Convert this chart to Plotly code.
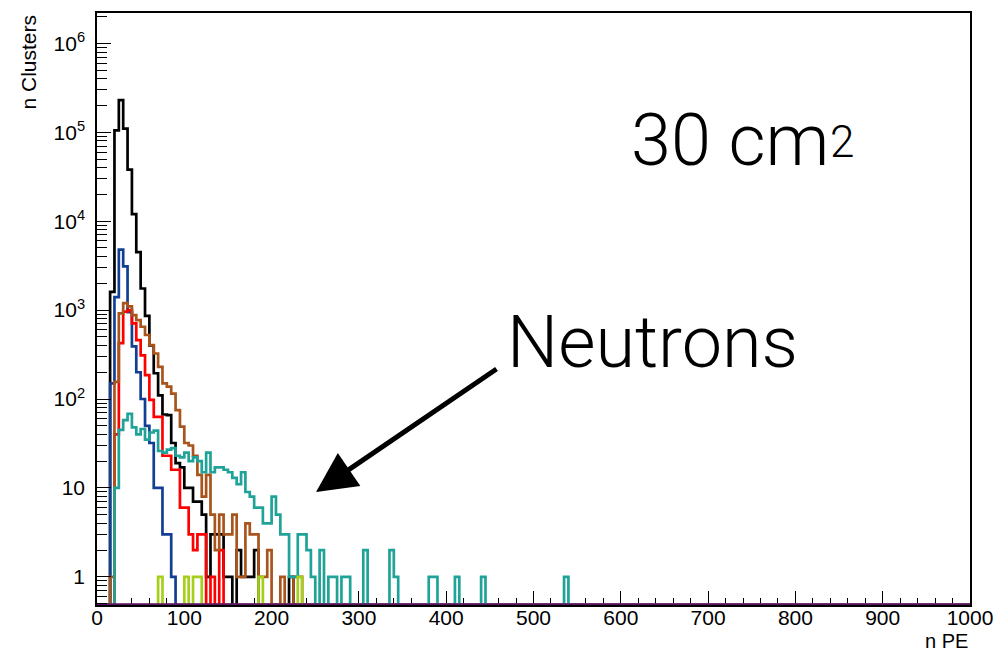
import numpy as np
import plotly.graph_objects as go

# Histogram binning: 200 bins of 5 PE between 0 and 1000
BIN_WIDTH = 5
X_MAX = 1000
Y_LOG_MIN = -0.317
Y_LOG_MAX = 6.342

# Lower bin edges (n PE) and cluster counts of the non-empty bins
black_lo = [15, 20, 25, 30, 35, 40, 45, 50, 55, 60, 65, 70, 75, 80, 85, 90, 95, 100, 105, 110,
            115, 120, 125, 130, 135, 140, 145, 150, 160, 165, 170, 175, 180, 220]
black_n = [1600, 105000, 230000, 110000, 38000, 12000, 4500, 1750, 860, 400, 195, 110, 67, 66, 32, 19, 17, 10, 10, 7,
           7, 5, 1, 3, 3, 3, 1, 1, 2, 1, 1, 1, 2, 1]

blue_lo = [15, 20, 25, 30, 35, 40, 45, 50, 55, 60, 65, 70, 75, 80, 85]
blue_n = [150, 1400, 4800, 3100, 950, 390, 200, 100, 50, 32, 10, 10, 3, 3, 1]

red_lo = [20, 25, 30, 35, 40, 45, 50, 55, 60, 65, 70, 75, 80, 85, 90, 95, 100, 105, 110, 115,
          120, 130, 140]
red_n = [40, 425, 960, 1000, 710, 460, 310, 186, 98, 63, 63, 23, 23, 16, 16, 6, 6, 3, 2, 3,
         3, 1, 2]

brown_lo = [15, 20, 25, 30, 35, 40, 45, 50, 55, 60, 65, 70, 75, 80, 85, 90, 95,
            100, 105, 110, 115, 120, 125, 130, 135, 140, 145, 150, 155, 160, 165, 170, 175, 180, 185, 190, 195,
            210, 225, 230]
brown_n = [1, 156, 920, 1200, 1100, 880, 770, 650, 525, 405, 325, 230, 150, 138, 115, 75, 49,
           32, 30, 23, 14, 8, 14, 5, 2, 5, 3, 3, 5, 1, 1, 4, 3, 3, 1, 1, 2,
           1, 1, 1]

teal_lo = [20, 25, 30, 35, 40, 45, 50, 55, 60, 65,
           70, 75, 80, 85, 90, 95, 100, 105, 110, 115,
           120, 125, 130, 135, 140, 145, 150, 155, 160, 165,
           170, 175, 180, 185, 190, 195, 200, 205, 210, 215,
           220, 225, 230, 235, 240, 245,
           255, 265, 270, 280, 285, 305, 335, 340, 380, 385, 410, 440, 535]
teal_n = [10, 45, 58, 68, 48, 40, 46, 35, 42, 44,
          26, 25, 27, 28, 23, 22, 25, 20, 22, 20,
          15, 25, 15, 17, 17, 16, 15, 13, 11, 15,
          9, 8, 6, 6, 4, 4, 8, 5, 3, 3,
          1, 1, 3, 3, 2, 1,
          2, 1, 1, 1, 1, 2, 2, 1, 1, 1, 1, 1, 1]

green_lo = [70, 100, 110, 115, 185, 230]
green_n = [1, 1, 1, 1, 1, 1]

purple_lo = []
purple_n = []

edges = np.arange(0, X_MAX + BIN_WIDTH, BIN_WIDTH)
n_bins = len(edges) - 1
floor = 10 ** Y_LOG_MIN  # empty bins are drawn along the bottom of the frame


def step_trace(lo, n, color, width=2.7):
    counts = np.zeros(n_bins)
    idx = (np.asarray(lo, dtype=float) / BIN_WIDTH).astype(int)
    counts[idx] = n
    y = np.where(counts > 0, counts, floor)
    y = np.append(y, y[-1])
    return go.Scatter(x=edges, y=y, mode="lines", line=dict(color=color, width=width, shape="hv"),
                      hoverinfo="skip")


fig = go.Figure()
fig.add_trace(step_trace(black_lo, black_n, "#000000"))
fig.add_trace(step_trace(blue_lo, blue_n, "#123f94"))
fig.add_trace(step_trace(red_lo, red_n, "#ff0000"))
fig.add_trace(step_trace(brown_lo, brown_n, "#a9541c"))
fig.add_trace(step_trace(teal_lo, teal_n, "#1fa399"))
fig.add_trace(step_trace(green_lo, green_n, "#a6cf1c"))
fig.add_trace(step_trace(purple_lo, purple_n, "#5c1466", width=3.5))

decades = list(range(0, 7))
major_vals = [10 ** d for d in decades]
major_text = ["1", "10"] + ["10<sup>%d</sup>" % d for d in decades[2:]]
minor_vals = [m * 10 ** d for d in range(-1, 7) for m in range(2, 10)]

font_family = "Liberation Sans, Arial, sans-serif"
big_font = dict(size=72, family="Roboto, Liberation Sans, sans-serif", weight=300)

fig.update_layout(
    width=995, height=658,
    margin=dict(l=97, r=25, t=13, b=53, autoexpand=False),
    paper_bgcolor="white", plot_bgcolor="white",
    showlegend=False,
    font=dict(family=font_family, color="black", size=21),
    xaxis=dict(
        range=[0, X_MAX], showline=True, mirror=True, linecolor="black", linewidth=1.5,
        ticks="inside", ticklen=14, tickwidth=1, tickcolor="black",
        tick0=0, dtick=100, showgrid=False, zeroline=False, automargin=False,
        minor=dict(ticks="inside", ticklen=7, dtick=20, tickcolor="black", tickwidth=1, showgrid=False),
        tickfont=dict(size=21), ticklabelstandoff=-7, layer="below traces",
    ),
    yaxis=dict(
        type="log", range=[Y_LOG_MIN, Y_LOG_MAX], showline=True, mirror=True, linecolor="black", linewidth=1.5,
        tickmode="array", tickvals=major_vals, ticktext=major_text, automargin=False,
        ticks="inside", ticklen=14, tickwidth=1, tickcolor="black",
        minor=dict(ticks="inside", ticklen=10, tickmode="array", tickvals=minor_vals,
                   tickcolor="black", tickwidth=1, showgrid=False),
        showgrid=False, zeroline=False, tickfont=dict(size=21), ticklabelstandoff=6,
    ),
    annotations=[
        dict(text="n Clusters", xref="paper", yref="paper", x=-0.079, y=1.0,
             xanchor="center", yanchor="top", textangle=-90, showarrow=False,
             font=dict(size=21)),
        dict(text="n PE", xref="paper", yref="paper", x=1.0, y=-0.061,
             xanchor="right", yanchor="middle", showarrow=False, font=dict(size=20)),
        dict(text="30 cm", xref="paper", yref="paper", x=0.609, y=0.784,
             xanchor="left", yanchor="middle", showarrow=False, font=big_font),
        dict(text="2", xref="paper", yref="paper", x=0.8375, y=0.782,
             xanchor="left", yanchor="middle", showarrow=False,
             font=dict(size=44, family=big_font["family"], weight=300)),
        dict(text="Neutrons", xref="paper", yref="paper", x=0.467, y=0.444,
             xanchor="left", yanchor="middle", showarrow=False, font=big_font),
        dict(text="", xref="paper", yref="paper", x=0.2509, y=0.1909,
             ax=182, ay=-124, showarrow=True, arrowhead=2, arrowwidth=5, arrowsize=1.6,
             arrowcolor="black", standoff=0),
    ],
)

fig.write_html("out.html")
